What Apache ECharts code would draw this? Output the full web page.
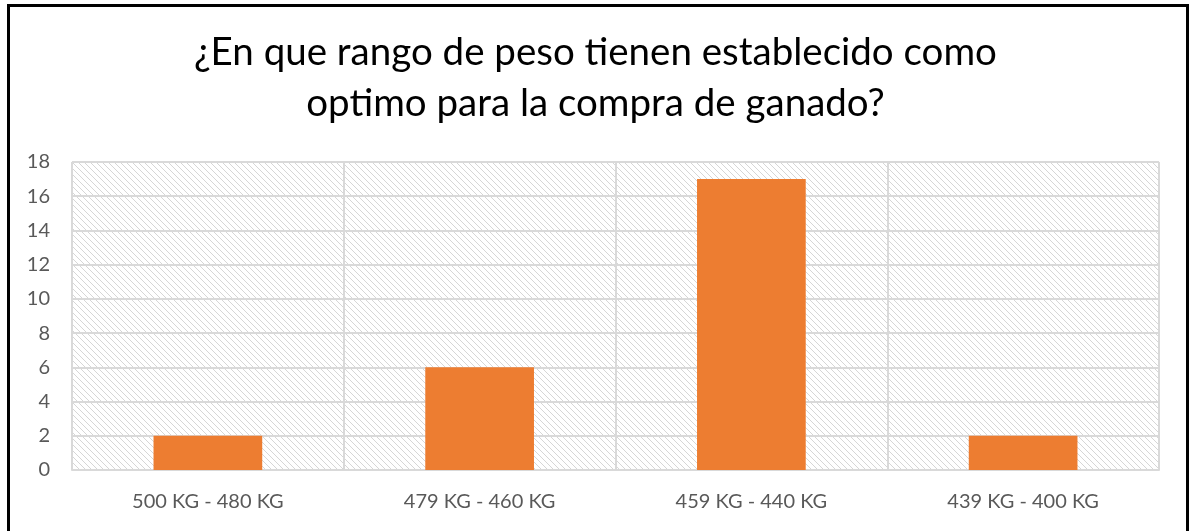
<!DOCTYPE html>
<html>
<head>
<meta charset="utf-8">
<script src="https://cdn.jsdelivr.net/npm/echarts@6/dist/echarts.min.js"></script>
<style>
  html, body { margin: 0; padding: 0; background: #fff; }
  #frame {
    position: absolute; left: 7px; top: 4px; width: 1182px; height: 540px;
    border: 3px solid #000; box-sizing: border-box;
  }
  #chart { position: absolute; left: 0; top: 0; width: 1191px; height: 531px; }
</style>
</head>
<body>
<div id="frame"></div>
<div id="chart"></div>
<script>
// datos del grafico
const categories = ['500 KG - 480 KG', '479 KG - 460 KG', '459 KG - 440 KG', '439 KG - 400 KG']
const values = [2, 6, 17, 2]
const titleText = '¿En que rango de peso tienen establecido como\noptimo para la compra de ganado?'

// patron rayado para el fondo del area de grafico
function hatch () {
  const c = document.createElement('canvas')
  c.width = 6
  c.height = 6
  const ctx = c.getContext('2d')
  ctx.strokeStyle = '#d6d6d6'
  ctx.lineWidth = 1
  ctx.beginPath()
  ctx.moveTo(-1, -1); ctx.lineTo(7, 7)
  ctx.moveTo(-1, 5); ctx.lineTo(1, 7)
  ctx.moveTo(5, -1); ctx.lineTo(7, 1)
  ctx.stroke()
  return c
}

const myChart = echarts.init(document.getElementById('chart'))
const option = {
  animation: false,
  title: {
    text: titleText,
    left: 'center',
    top: 22,
    textStyle: {
      fontFamily: 'Lato',
      fontSize: 38.5,
      fontWeight: 'normal',
      color: '#000',
      lineHeight: 51
    }
  },
  grid: {
    left: 72,
    right: 32,
    top: 162,
    bottom: 61,
    show: true,
    borderWidth: 0,
    backgroundColor: { image: hatch(), repeat: 'repeat' }
  },
  xAxis: {
    type: 'category',
    data: categories,
    axisTick: { show: false },
    axisLine: { lineStyle: { color: '#d9d9d9', width: 2 } },
    splitLine: { show: true, lineStyle: { color: '#d9d9d9', width: 2 } },
    axisLabel: { color: '#595959', fontSize: 20, fontFamily: 'Lato', margin: 22 }
  },
  yAxis: {
    type: 'value',
    min: 0,
    max: 18,
    interval: 2,
    axisLine: { show: false },
    axisTick: { show: false },
    splitLine: { lineStyle: { color: '#d9d9d9', width: 2 } },
    axisLabel: { color: '#595959', fontSize: 20, fontFamily: 'Lato', margin: 22 }
  },
  series: [
    {
      type: 'bar',
      data: values,
      barWidth: '40%',
      itemStyle: { color: '#ed7d31' }
    }
  ]
}
myChart.setOption(option)
</script>
</body>
</html>
